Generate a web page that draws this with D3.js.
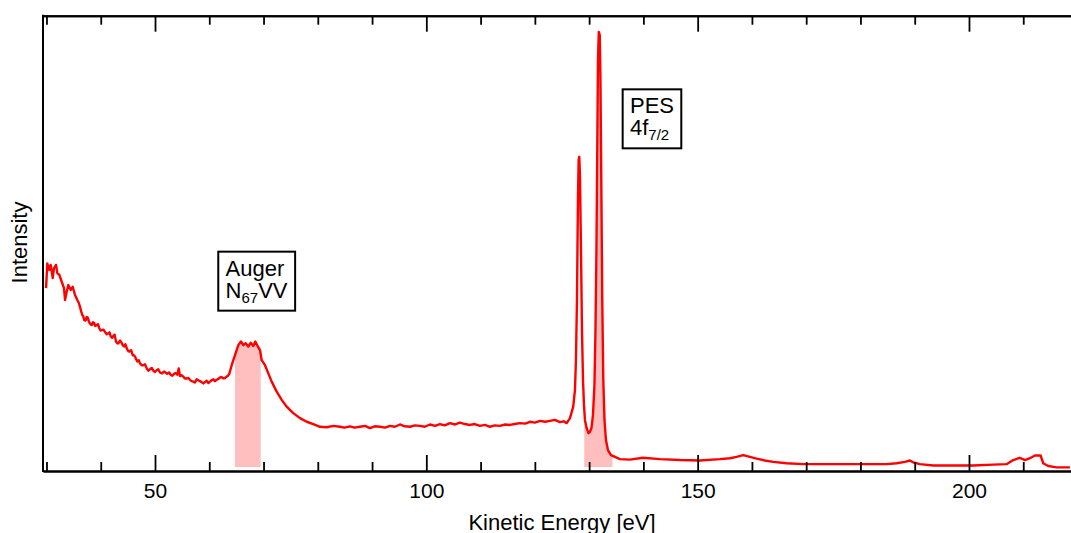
<!DOCTYPE html>
<html>
<head>
<meta charset="utf-8">
<script src="https://cdn.jsdelivr.net/npm/d3@7"></script>
<style>
  body { margin: 0; background: #fff; }
  text { font-family: "Liberation Sans", Arial, Helvetica, sans-serif; }
</style>
</head>
<body>
<script>
// spectrum: [kinetic energy (eV), intensity (arb. units)]
const spectrum = [
  [29.92, 40.1], [30.16, 45.5], [30.52, 44.1], [30.78, 45.2], [31.15, 42.3], [31.39, 44.5],
  [31.76, 45.2], [32.0, 43.4], [32.37, 43.0], [32.81, 41.5], [33.23, 40.1], [33.42, 37.5],
  [33.73, 39.3], [34.02, 40.8], [34.47, 39.7], [34.84, 40.4], [35.26, 38.6], [35.68, 37.5],
  [35.95, 36.9], [36.18, 36.0], [36.4, 35.0], [36.6, 34.2], [36.78, 33.9], [36.97, 33.1],
  [37.2, 33.0], [37.41, 33.8], [37.62, 33.6], [37.84, 32.7], [38.1, 32.2], [38.34, 32.0],
  [38.55, 32.6], [38.76, 32.5], [39.0, 31.8], [39.26, 32.0], [39.5, 32.2], [39.74, 31.3],
  [39.96, 30.8], [40.18, 30.9], [40.5, 31.0], [40.79, 30.5], [41.1, 30.0], [41.4, 30.2],
  [41.62, 30.4], [41.84, 29.5], [42.1, 29.2], [42.32, 29.6], [42.56, 29.9], [42.81, 28.4],
  [43.05, 28.0], [43.24, 28.0], [43.55, 28.6], [43.86, 28.1], [44.05, 27.6], [44.29, 27.3],
  [44.55, 27.8], [44.79, 26.9], [45.05, 26.3], [45.26, 26.2], [45.6, 26.5], [45.89, 25.4],
  [46.1, 25.4], [46.31, 25.1], [46.52, 24.5], [46.74, 24.0], [47.0, 24.3], [47.24, 23.6],
  [47.55, 23.2], [47.84, 23.2], [48.15, 23.4], [48.47, 22.5], [48.8, 22.0], [49.08, 22.3],
  [49.4, 22.6], [49.69, 22.0], [50.0, 21.7], [50.31, 22.1], [50.6, 22.3], [50.92, 21.6],
  [51.3, 21.4], [51.66, 21.8], [51.95, 21.6], [52.27, 21.3], [52.6, 21.6], [52.89, 21.1],
  [53.2, 20.9], [53.5, 21.3], [53.8, 21.5], [54.11, 21.1], [54.37, 22.5], [54.61, 20.8],
  [54.9, 21.0], [55.21, 20.7], [55.5, 20.3], [55.84, 20.3], [56.15, 20.4], [56.45, 20.0],
  [56.75, 19.7], [57.06, 19.6], [57.37, 19.4], [57.68, 20.1], [58.0, 19.9], [58.29, 19.7],
  [58.6, 19.5], [58.9, 19.2], [59.2, 19.5], [59.53, 19.8], [59.83, 19.3], [60.13, 19.6],
  [60.43, 19.9], [60.74, 20.1], [61.05, 19.7], [61.37, 20.0], [61.67, 20.2], [61.98, 20.5],
  [62.28, 20.6], [62.58, 20.3], [62.9, 20.4], [63.21, 20.7], [63.45, 20.9], [63.69, 21.3],
  [64.13, 23.2], [64.74, 25.4],
  [65.35, 27.6], [65.85, 28.4], [66.27, 27.6], [66.71, 28.0], [67.19, 27.3], [67.63, 28.1],
  [68.11, 27.4], [68.48, 28.4], [68.92, 27.4], [69.35, 26.5], [69.66, 24.3], [70.27, 23.2],
  [70.88, 21.4], [71.5, 19.6], [72.42, 17.4], [73.35, 15.6], [74.27, 14.1], [75.48, 12.7],
  [76.72, 11.6], [77.95, 10.8], [79.17, 10.3], [80.4, 9.7], [81.64, 9.6], [82.85, 9.9],
  [84.09, 9.7], [84.9, 9.5], [85.93, 9.8], [86.8, 9.5], [87.77, 9.7], [88.7, 9.9],
  [89.61, 9.4], [90.5, 9.8], [91.46, 9.7], [92.4, 9.5], [93.3, 9.9], [94.2, 9.7],
  [95.14, 10.2], [96.0, 9.8], [96.99, 9.7], [97.9, 10.0], [98.83, 9.9], [99.7, 9.7],
  [100.67, 10.2], [101.6, 9.9], [102.51, 10.3], [103.4, 10.0], [104.36, 10.5], [105.3, 10.2],
  [106.2, 10.6], [107.1, 10.3], [108.04, 10.1], [108.9, 10.3], [109.88, 9.9], [110.8, 10.1],
  [111.73, 9.7], [112.6, 10.0], [113.57, 9.9], [114.5, 10.2], [115.41, 10.1], [116.3, 10.3],
  [117.25, 10.5], [118.2, 10.4], [119.1, 10.8], [120.0, 10.6], [120.94, 11.0], [121.9, 10.8],
  [122.78, 11.0], [123.7, 11.2], [124.62, 10.7], [125.3, 10.9], [125.86, 10.5], [126.47, 11.6],
  [127.07, 14.1], [127.39, 17.8], [127.57, 24.3], [127.76, 37.5], [127.94, 59.4], [128.07, 68.2],
  [128.18, 68.9], [128.31, 64.9], [128.5, 48.5], [128.68, 30.9], [128.87, 20.0], [129.05, 14.5],
  [129.23, 11.2], [129.55, 9.4], [129.88, 8.3], [130.15, 8.6], [130.43, 9.4], [130.71, 12.3],
  [130.98, 18.9], [131.17, 30.9], [131.35, 48.5], [131.5, 70.4], [131.63, 90.1], [131.78, 96.3],
  [131.96, 95.6], [132.09, 85.7], [132.24, 63.8], [132.42, 37.5], [132.61, 20.0], [132.83, 11.2],
  [133.1, 6.8], [133.47, 4.6], [134.02, 3.5], [134.76, 3.1], [135.68, 2.6], [137.52, 2.5],
  [139.92, 2.9], [143.05, 2.6], [146.74, 2.4], [150.42, 2.3], [154.11, 2.6], [155.95, 2.8],
  [157.18, 3.1], [158.4, 3.5], [159.63, 3.1], [160.87, 2.7], [162.39, 2.3], [163.93, 2.0],
  [166.4, 1.7], [169.46, 1.5], [172.53, 1.5], [175.61, 1.5], [178.67, 1.5], [181.75, 1.5],
  [184.82, 1.5], [186.67, 1.7], [188.19, 2.0], [189.12, 2.3], [189.73, 1.9], [190.96, 1.5],
  [193.41, 1.2], [197.1, 1.2], [200.78, 1.2], [204.46, 1.4], [206.93, 1.5], [208.15, 2.4],
  [209.38, 2.9], [210.3, 2.4], [211.23, 2.8], [212.15, 3.4], [213.2, 3.4], [213.68, 1.7],
  [214.6, 1.1], [216.14, 0.8], [218.6, 0.8]
];

const majorTicks = [50, 100, 150, 200];
const minorTicks = [30, 40, 60, 70, 80, 90, 110, 120, 130, 140, 160, 170, 180, 190, 210];

// shaded integration windows (eV) and the level they are filled down to
const shadedRanges = [[64.74, 69.48], [129.1, 134.3]];
const shadeBase = 0.9;

// annotation boxes: top-left corner in data units
const annotations = [
  { x: 61.66, y: 48.1, lines: [[["Auger"]], [["N"], ["67", "sub"], ["VV"]]] },
  { x: 136.18, y: 83.7, lines: [[["PES"]], [["4f"], ["7/2", "sub"]]] }
];

var width = 1071, height = 533;
var margin = { top: 15.7, left: 43, bottom: 62 };

var svg = d3.select("body").append("svg")
    .attr("width", width)
    .attr("height", height);

var x = d3.scaleLinear()
    .domain([29.36, 218.8])
    .range([margin.left, width]);

var y = d3.scaleLinear()
    .domain([0, 100])
    .range([height - margin.bottom, 15]);

var yBottom = height - margin.bottom;

// clip for the shaded windows
var defs = svg.append("defs");
shadedRanges.forEach(function (r, i) {
    defs.append("clipPath").attr("id", "shade" + i)
        .append("rect")
        .attr("x", x(r[0]))
        .attr("y", 0)
        .attr("width", x(r[1]) - x(r[0]))
        .attr("height", height);
});

var area = d3.area()
    .x(function (d) { return x(d[0]); })
    .y0(y(shadeBase))
    .y1(function (d) { return y(d[1]); });

shadedRanges.forEach(function (r, i) {
    svg.append("path")
        .datum(spectrum)
        .attr("clip-path", "url(#shade" + i + ")")
        .attr("fill", "#ffbfbf")
        .attr("d", area);
});

// spectrum line
var line = d3.line()
    .x(function (d) { return x(d[0]); })
    .y(function (d) { return y(d[1]); });

svg.append("path")
    .datum(spectrum)
    .attr("fill", "none")
    .attr("stroke", "#ff0000")
    .attr("stroke-width", 2.4)
    .attr("stroke-linejoin", "round")
    .attr("d", line);

// axes: ticks point inward on top and bottom
function styleAxis(g) {
    g.select(".domain").attr("stroke", "#000").attr("stroke-width", 2);
    g.selectAll(".tick line").attr("stroke", "#000").attr("stroke-width", 1.8);
    g.selectAll(".tick text")
        .attr("fill", "#000")
        .style("font-size", "21px")
        .style("font-family", "'Liberation Sans', Arial, Helvetica, sans-serif");
}

svg.append("g")
    .attr("transform", "translate(0," + yBottom + ")")
    .call(d3.axisBottom(x).tickValues(minorTicks).tickSize(-9).tickSizeOuter(0).tickFormat(""))
    .call(styleAxis);

svg.append("g")
    .attr("transform", "translate(0," + yBottom + ")")
    .call(d3.axisBottom(x).tickValues(majorTicks).tickSize(-16).tickSizeOuter(0).tickPadding(12))
    .call(styleAxis);

svg.append("g")
    .attr("transform", "translate(0," + margin.top + ")")
    .call(d3.axisTop(x).tickValues(minorTicks).tickSize(-9).tickSizeOuter(0).tickFormat(""))
    .call(styleAxis);

svg.append("g")
    .attr("transform", "translate(0," + margin.top + ")")
    .call(d3.axisTop(x).tickValues(majorTicks).tickSize(-16).tickSizeOuter(0).tickFormat(""))
    .call(styleAxis);

// left axis, no ticks
svg.append("line")
    .attr("x1", margin.left).attr("x2", margin.left)
    .attr("y1", margin.top - 1).attr("y2", yBottom + 1)
    .attr("stroke", "#000")
    .attr("stroke-width", 2);

// axis titles (bottom one is clipped by the page edge, as in the source)
svg.append("text")
    .attr("x", 562)
    .attr("y", 530)
    .attr("text-anchor", "middle")
    .style("font-size", "22px")
    .text("Kinetic Energy [eV]");

svg.append("text")
    .attr("transform", "translate(27,242.5)rotate(-90)")
    .attr("text-anchor", "middle")
    .style("font-size", "22px")
    .text("Intensity");

// annotation boxes
annotations.forEach(function (a) {
    var g = svg.append("g")
        .attr("transform", "translate(" + x(a.x) + "," + y(a.y) + ")");
    var rect = g.append("rect");
    var t = g.append("text").style("font-size", "22px");
    a.lines.forEach(function (parts, li) {
        var first = true;
        parts.forEach(function (p) {
            var ts = t.append("tspan").text(p[0]);
            if (first) ts.attr("x", 7.3).attr("y", 24 + li * 22);
            first = false;
            if (p[1] === "sub") ts.attr("dy", 5).style("font-size", "15px");
            else if (!ts.attr("y")) ts.attr("dy", -5);
        });
    });
    var bb = t.node().getBBox();
    rect.attr("x", 0).attr("y", 0)
        .attr("width", bb.width + 14.6)
        .attr("height", 59)
        .attr("fill", "#fff")
        .attr("stroke", "#000")
        .attr("stroke-width", 2);
});
</script>
</body>
</html>
